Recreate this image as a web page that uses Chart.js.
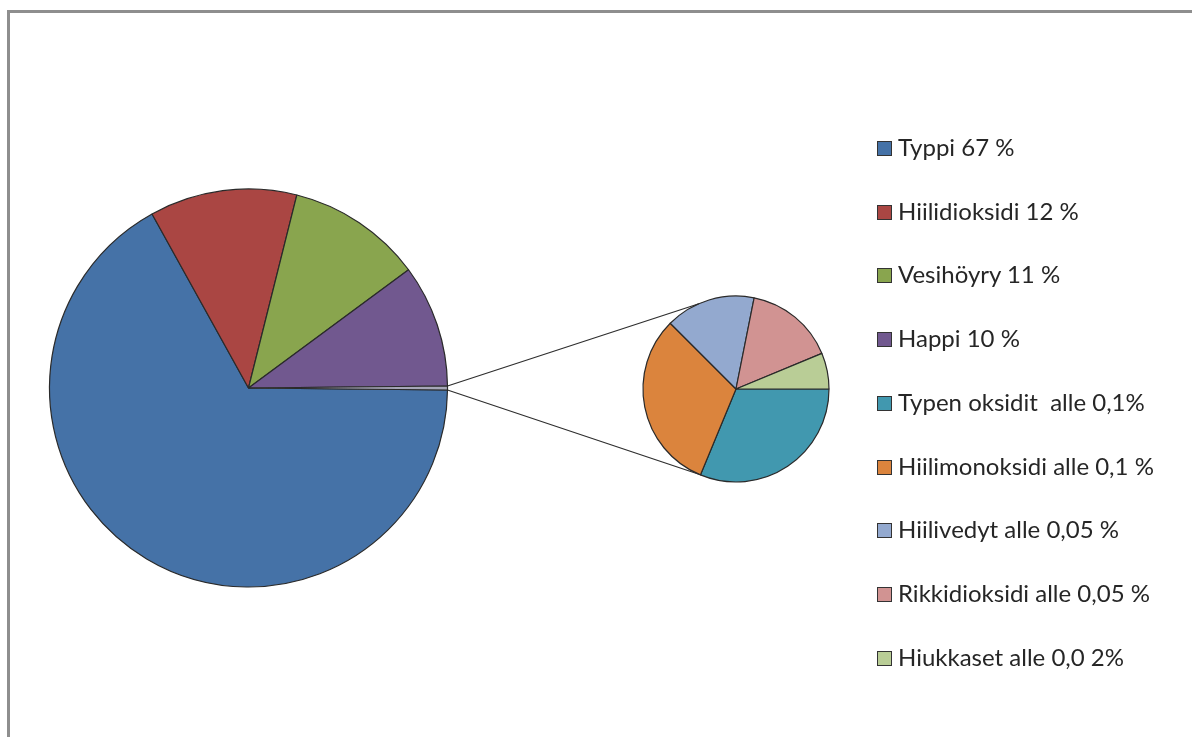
<!DOCTYPE html>
<html>
<head>
<meta charset="utf-8">
<script src="https://cdn.jsdelivr.net/npm/chart.js@4.4.1/dist/chart.umd.min.js"></script>
<style>
  html, body { margin: 0; padding: 0; background: #ffffff; }
  #wrap { position: relative; width: 1192px; height: 737px; overflow: hidden; background: #fff; }
  #frame { position: absolute; left: 7px; top: 10px; width: 1200px; height: 740px;
           border-left: 3px solid #8e8e8e; border-top: 3px solid #8e8e8e; }
  canvas { position: absolute; left: 0; top: 0; }
  #legend { position: absolute; left: 877px; top: 0; font-family: Lato, "Open Sans", sans-serif;
            font-size: 24px; color: #262626; }
  .item { position: absolute; left: 0; white-space: pre; height: 30px; line-height: 30px; }
  .sw { position: absolute; left: 0; top: 8px; width: 13px; height: 13px; border: 1px solid #333; }
  .tx { position: absolute; left: 21px; top: -1px; }
</style>
</head>
<body>
<div id="wrap">
  <div id="frame"></div>
  <canvas id="main" width="1192" height="737"></canvas>
  <canvas id="sub" width="1192" height="737"></canvas>
  <div id="legend"></div>
</div>
<script>
// ---- data ----
const mainLabels = ["Typpi 67 %", "Hiilidioksidi 12 %", "Vesihöyry 11 %", "Happi 10 %", "Muut"];
const mainValues = [67, 12, 11, 10, 0.32];
const mainColors = ["#4572A7", "#AA4643", "#89A54E", "#71588F", "#A6A6B8"];

const subLabels = ["Typen oksidit  alle 0,1%", "Hiilimonoksidi alle 0,1 %", "Hiilivedyt alle 0,05 %",
                   "Rikkidioksidi alle 0,05 %", "Hiukkaset alle 0,0 2%"];
const subValues = [0.1, 0.1, 0.05, 0.05, 0.02];
const subColors = ["#4198AF", "#DB843D", "#93A9CF", "#D19392", "#B9CD96"];

const legendLabels = mainLabels.slice(0, 4).concat(subLabels);
const legendColors = mainColors.slice(0, 4).concat(subColors);

// ---- charts ----
const common = {
  responsive: false,
  animation: false,
  events: [],
  plugins: { legend: { display: false }, tooltip: { enabled: false } }
};

const mainChart = new Chart(document.getElementById('main'), {
  type: 'pie',
  data: { labels: mainLabels, datasets: [{ data: mainValues, backgroundColor: mainColors,
          borderColor: '#2a2a2a', borderWidth: 1.2 }] },
  options: Object.assign({}, common, {
    rotation: 90.575,
    radius: 199,
    layout: { padding: { left: 49, top: 189, right: 744, bottom: 150 } }
  })
});

const connector = {
  id: 'connector',
  afterDatasetsDraw(chart) {
    const other = mainChart.getDatasetMeta(0).data[mainValues.length - 1];
    const sub = chart.getDatasetMeta(0).data[0];
    const ctx = chart.ctx;
    const R = other.outerRadius, r = sub.outerRadius;
    const a1 = other.startAngle, a2 = other.endAngle;
    const t = 113.5 * Math.PI / 180;
    ctx.save();
    ctx.strokeStyle = '#2e2e2e';
    ctx.lineWidth = 1.2;
    ctx.beginPath();
    ctx.moveTo(other.x + R * Math.cos(a1), other.y + R * Math.sin(a1));
    ctx.lineTo(sub.x + r * Math.cos(-t), sub.y + r * Math.sin(-t));
    ctx.moveTo(other.x + R * Math.cos(a2), other.y + R * Math.sin(a2));
    ctx.lineTo(sub.x + r * Math.cos(t), sub.y + r * Math.sin(t));
    ctx.stroke();
    ctx.restore();
  }
};

const subChart = new Chart(document.getElementById('sub'), {
  type: 'pie',
  data: { labels: subLabels, datasets: [{ data: subValues, backgroundColor: subColors,
          borderColor: '#2a2a2a', borderWidth: 1.2 }] },
  options: Object.assign({}, common, {
    rotation: 90,
    radius: 93,
    layout: { padding: { left: 643, top: 296, right: 363, bottom: 255 } }
  }),
  plugins: [connector]
});

// ---- legend ----
const legend = document.getElementById('legend');
legendLabels.forEach((lab, i) => {
  const it = document.createElement('div');
  it.className = 'item';
  it.style.top = (133 + i * 63.7) + 'px';
  const sw = document.createElement('div');
  sw.className = 'sw';
  sw.style.background = legendColors[i];
  const tx = document.createElement('div');
  tx.className = 'tx';
  tx.textContent = lab;
  it.appendChild(sw); it.appendChild(tx);
  legend.appendChild(it);
});
</script>
</body>
</html>
